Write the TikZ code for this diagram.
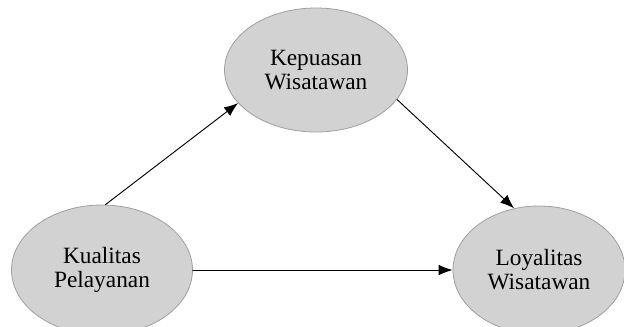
\documentclass[tikz,border=0pt]{standalone}
\usepackage{fontspec}
\setmainfont{Liberation Serif}
\usetikzlibrary{shapes.geometric,arrows.meta}
\begin{document}
\begin{tikzpicture}[x=0.75pt,y=-0.75pt,font=\fontsize{17.5}{18}\selectfont, line cap=round,line join=round,>={Latex[length=10.5pt,width=8pt]},
  var/.style={ellipse,draw=gray!75,line width=0.6pt,fill=gray!35,align=center,inner sep=0pt}]
\useasboundingbox (0,0) rectangle (624,326);
\node[var, minimum width=0.75pt*181, minimum height=0.75pt*130] (kual) at (102,270) {Kualitas\\Pelayanan};
\node[var, minimum width=0.75pt*183, minimum height=0.75pt*124] (kep) at (316,70) {Kepuasan\\Wisatawan};
\node[var, minimum width=0.75pt*172, minimum height=0.75pt*128] (loy) at (539,270) {Loyalitas\\Wisatawan};
\draw[->, line width=0.7pt] (kual.87) -- (kep.203);
\draw[->, line width=0.7pt] (kep.340) -- (loy.112);
\draw[->, line width=0.7pt] (kual.east) -- (loy.west);
\end{tikzpicture}
\end{document}
